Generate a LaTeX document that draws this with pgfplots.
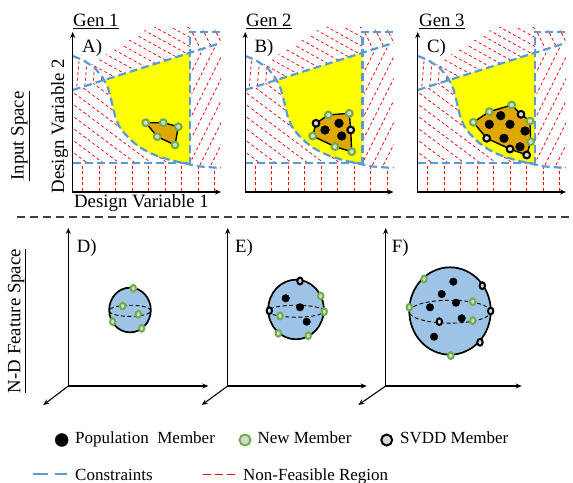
\documentclass[border=0pt]{standalone}
\usepackage{pgfplots}
\pgfplotsset{compat=1.18}
\usetikzlibrary{arrows.meta}
\usepackage{fontspec}
\setmainfont{Liberation Serif}
\definecolor{cblue}{RGB}{91,155,213}
\definecolor{cyel}{RGB}{255,255,0}
\definecolor{cgold}{RGB}{223,168,0}
\definecolor{cgreen}{RGB}{112,173,71}
\definecolor{csph}{RGB}{157,195,230}
\definecolor{cfill}{RGB}{215,215,215}
\pgfplotsset{
 base/.style={at={(0,0)},anchor=south west,scale only axis,width=573bp,height=483bp,
   xmin=0,xmax=573,ymin=0,ymax=483,y dir=reverse,hide axis,clip=false},
 constr/.style={color=cblue,line width=2.2pt,dash pattern=on 8pt off 4pt,no markers},
 hatch/.style={color=red,line width=0.75pt,dash pattern=on 3pt off 2.6pt,no markers,unbounded coords=jump},
 ax/.style={black,line width=1.1pt,no markers},
 pop/.style={only marks,mark=*,mark size=4.4,mark options={fill=black,draw=black}},
 newm/.style={only marks,mark=*,mark size=3.4,mark options={fill=cfill,draw=cgreen,line width=2pt}},
 svdd/.style={only marks,mark=*,mark size=3.4,mark options={fill=cfill,draw=black,line width=2pt}},
 popl/.style={only marks,mark=*,mark size=3.8,mark options={fill=black,draw=black}},
 newl/.style={only marks,mark=*,mark size=3.4,mark options={fill=cfill,draw=cgreen,line width=2pt,xscale=0.8}},
 svddl/.style={only marks,mark=*,mark size=3.4,mark options={fill=cfill,draw=black,line width=2pt,xscale=0.8}},
}
\newcommand{\panelbg}{%
 \addplot[fill=cyel,draw=none] coordinates {(104,80) (190,52.75) (190,164.5) (183,163) (172,160.5) (160,157) (150,153) (141,148) (133,142) (125,134) (119,126) (115,116) (111.5,101) (108,88)} -- cycle;
 % top region
 \begin{scope}
 \clip (150,27) -- (190,27) -- (190,52.75) -- (104,80) -- (95,68) -- (91,64) -- cycle;
 \addplot[hatch] coordinates {(80,-32) (200,34) (nan,nan) (80,-23) (200,43) (nan,nan) (80,-14) (200,52) (nan,nan)
   (80,-5) (200,61) (nan,nan) (80,4) (200,70) (nan,nan) (80,13) (200,79) (nan,nan) (80,22) (200,88) (nan,nan)
   (80,31) (200,97) (nan,nan) (80,40) (200,106) (nan,nan) (80,49) (200,115) (nan,nan) (80,58) (200,124) (nan,nan) (80,67) (200,133)};
 \end{scope}
 % small left wedge
 \begin{scope}
 \clip (72.7,56) -- (83,60) -- (95,68) -- (103,78) -- (104,80) -- (72.7,90) -- cycle;
 \addplot[hatch] coordinates {(80,50) (76,95) (nan,nan) (88,50) (84,95) (nan,nan) (96,50) (92,95) (nan,nan) (104,50) (100,95)};
 \end{scope}
 % left region
 \begin{scope}
 \clip (72.7,90) -- (104,80) -- (108,88) -- (111.5,101) -- (115,116) -- (119,126) -- (125,134) -- (133,142) -- (141,148) -- (150,153) -- (160,157) -- (172,160.5) -- (183,162) -- (72.7,162) -- cycle;
 \addplot[hatch] coordinates {(70,54) (190,144) (nan,nan) (70,66) (190,156) (nan,nan) (70,78) (190,168) (nan,nan)
   (70,90) (190,180) (nan,nan) (70,102) (190,192) (nan,nan) (70,114) (190,204) (nan,nan) (70,126) (190,216) (nan,nan)
   (70,138) (190,228) (nan,nan) (70,150) (190,240) (nan,nan) (70,162) (190,252)};
 \end{scope}
 % bottom strip
 \begin{scope}
 \clip (72.7,164.5) -- (183,164.5) -- (190,165.5) -- (200,167.5) -- (221,169) -- (221,192) -- (72.7,192) -- cycle;
 \addplot[hatch] coordinates {(82.7,160) (82.7,192) (nan,nan) (99.2,160) (99.2,192) (nan,nan) (115.7,160) (115.7,192) (nan,nan)
   (132.2,160) (132.2,192) (nan,nan) (148.7,160) (148.7,192) (nan,nan) (165.2,160) (165.2,192) (nan,nan)
   (181.7,160) (181.7,192) (nan,nan) (198.2,160) (198.2,192) (nan,nan) (214.7,160) (214.7,192)};
 \end{scope}
 % right region
 \begin{scope}
 \clip (191.5,52.3) -- (221,42.9) -- (221,168) -- (200,166.5) -- (191.5,164.5) -- cycle;
 \addplot[hatch] coordinates {(116.5,200) (201.5,30) (nan,nan) (127.5,200) (212.5,30) (nan,nan) (138.5,200) (223.5,30) (nan,nan)
   (149.5,200) (234.5,30) (nan,nan) (160.5,200) (245.5,30) (nan,nan) (171.5,200) (256.5,30) (nan,nan)
   (182.5,200) (267.5,30) (nan,nan) (193.5,200) (278.5,30) (nan,nan) (204.5,200) (289.5,30)};
 \end{scope}
 % top right box
 \begin{scope}
 \clip (191.5,30) -- (221,30) -- (221,42.9) -- (191.5,52.3) -- cycle;
 \addplot[hatch] coordinates {(178,28) (193,58) (nan,nan) (190,28) (205,58) (nan,nan) (202,28) (217,58) (nan,nan) (214,28) (229,58)};
 \end{scope}
 % constraints
 \addplot[constr] coordinates {(72.7,90) (221,42.9)};
 \addplot[constr] coordinates {(72.7,163.3) (190,163.3)};
 \addplot[constr] coordinates {(190,165) (190,31.7) (221,31.7)};
 \addplot[constr] coordinates {(72.7,56) (83,60) (95,68) (103,78) (108,88) (111.5,101) (115,116) (119,126) (125,134) (133,142) (141,148) (150,153) (160,157) (172,160.5) (183,163) (190,164.5) (200,166.5) (221,168)};
 % axes
 \addplot[ax,<->] coordinates {(72.7,32) (72.7,192) (221,192)};
}
\begin{document}
\begin{tikzpicture}[>={Stealth[length=6pt,width=5pt]},font=\fontsize{18.8bp}{21bp}\selectfont,every node/.style={inner sep=0pt}]
\begin{axis}[base]
\panelbg
\end{axis}
\begin{axis}[base,xmin=-172.5,xmax=400.5]
\panelbg
\end{axis}
\begin{axis}[base,xmin=-345,xmax=228]
\panelbg
\end{axis}
\begin{axis}[base]
% separator
\addplot[color=black!75,line width=1.2pt,dash pattern=on 8pt off 5pt,no markers] coordinates {(17,217) (573,217)};
% SVDD polygons
\addplot[fill=cgold,draw=black,line width=1.4pt] coordinates {(145.7,122.7) (163.3,122.7) (178.3,126.7) (175,145) (157.3,136.7)} -- cycle;
\addplot[fill=cgold,draw=black,line width=1.4pt] coordinates {(316,123.3) (328.3,115) (349.3,113.3) (350.7,130) (351.7,151.7) (335,146.7) (312.7,136)} -- cycle;
\addplot[fill=cgold,draw=black,line width=1.4pt] coordinates {(473.3,122.3) (489.3,111.7) (511.7,105) (521,114.3) (530,121) (530.7,141.7) (526.7,155) (510,149) (486.7,138.3)} -- cycle;
% members, input space
\addplot[newm] coordinates {(145.7,122.7) (163.3,122.7) (178.3,126.7) (157.3,136.7) (175,145)};
\addplot[pop] coordinates {(339,123.3) (325,130) (341.7,136)};
\addplot[newm] coordinates {(328.3,115) (349.3,113.3) (312.7,136) (335,146.7) (351.7,151.7)};
\addplot[svdd] coordinates {(316,123.3) (350.7,130)};
\addplot[pop] coordinates {(500.7,115.7) (510,124.3) (489.3,124.3) (525,131) (504,138.3) (520,146.7)};
\addplot[newm] coordinates {(511.7,105) (489.3,111.7) (473.3,122.3) (530,121) (530.7,141.7)};
\addplot[svdd] coordinates {(521,114.3) (486.7,138.3) (510,149) (526.7,155)};
% feature space axes
\addplot[ax,->] coordinates {(68.3,386) (68.3,228)};
\addplot[ax,->] coordinates {(68.3,386) (208.3,386)};
\addplot[ax,->] coordinates {(68.3,386) (43.3,405)};
\addplot[ax,->] coordinates {(227.7,386) (227.7,228)};
\addplot[ax,->] coordinates {(227.7,386) (366.7,386)};
\addplot[ax,->] coordinates {(227.7,386) (201.7,405)};
\addplot[ax,->] coordinates {(385.7,386) (385.7,228)};
\addplot[ax,->] coordinates {(385.7,386) (521.7,386)};
\addplot[ax,->] coordinates {(385.7,386) (358.3,405)};
% spheres
\addplot[only marks,mark=*,mark size=20.9,mark options={fill=csph,draw=black,line width=1.7pt,yscale=1.074}] coordinates {(130,310)};
\addplot[only marks,mark=*,mark size=27.9,mark options={fill=csph,draw=black,line width=1.7pt,yscale=1.073}] coordinates {(296,309.5)};
\addplot[only marks,mark=*,mark size=40.9,mark options={fill=csph,draw=black,line width=1.7pt,yscale=1.072}] coordinates {(450,311)};
\addplot[only marks,mark=o,mark size=21,mark options={draw=black,line width=0.9pt,dash pattern=on 4pt off 2.5pt,yscale=0.267}] coordinates {(130,310.8)};
\addplot[only marks,mark=o,mark size=28,mark options={draw=black,line width=0.9pt,dash pattern=on 4pt off 2.5pt,yscale=0.216}] coordinates {(296,311.2)};
\addplot[only marks,mark=o,mark size=41,mark options={draw=black,line width=0.9pt,dash pattern=on 4pt off 2.5pt,yscale=0.28}] coordinates {(450,311.7)};
% members, feature space
\addplot[newl] coordinates {(133.3,288.3) (122.7,306) (138.3,314.3) (112.7,321.7) (141.7,328.3)};
\addplot[popl] coordinates {(285.7,298.3) (300,307.3) (306.7,321.7)};
\addplot[newl] coordinates {(320.7,296) (324.3,311.7) (280,316) (278.3,333.3) (308.3,335.7)};
\addplot[svddl] coordinates {(300,281) (269.3,310.7)};
\addplot[popl] coordinates {(453.3,281.7) (441.7,294) (456,302.7) (430,307.3) (461.7,318.3) (434,336.7)};
\addplot[newl] coordinates {(424,279) (409.3,307.3) (472.7,301.7) (472.7,320.7) (450.7,355.7)};
\addplot[svddl] coordinates {(482.3,285.7) (490.7,311) (439.3,321.7) (480,342.3)};
% legend
\addplot[only marks,mark=*,mark size=6.5,mark options={fill=black,draw=black}] coordinates {(61.7,440)};
\addplot[only marks,mark=*,mark size=5.5,mark options={fill=cfill,draw=cgreen,line width=2pt}] coordinates {(245,440)};
\addplot[only marks,mark=*,mark size=5.5,mark options={fill=cfill,draw=black,line width=2pt}] coordinates {(386.7,440)};
\addplot[color=cblue,line width=2pt,dash pattern=on 15pt off 6.7pt,no markers] coordinates {(33.3,474.3) (66.7,474.3)};
\addplot[color=red,line width=1pt,dash pattern=on 8pt off 4pt,no markers] coordinates {(203,474.3) (235,474.3)};
% texts
\node[anchor=base west] at (73,26.5) {\underline{Gen 1}};
\node[anchor=base west] at (246,26.5) {\underline{Gen 2}};
\node[anchor=base west] at (419,26.5) {\underline{Gen 3}};
\node[anchor=base west] at (82,52.5) {A)};
\node[anchor=base west] at (254.5,52.5) {B)};
\node[anchor=base west] at (427,52.5) {C)};
\node[rotate=90,anchor=base] at (64,126) {Design Variable 2};
\node[anchor=base] at (141.5,207) {Design Variable 1};
\node[rotate=90,anchor=base] at (23.5,136) {\underline{Input Space}};
\node[rotate=90,anchor=base] at (20.3,321) {\underline{N-D Feature Space}};
\node[anchor=base west] at (76.7,252.5) {D)};
\node[anchor=base west] at (235,252.5) {E)};
\node[anchor=base west] at (391.7,252.5) {F)};
\node[anchor=base west,font=\fontsize{17bp}{19bp}\selectfont] at (75,443.3) {Population\ \ Member};
\node[anchor=base west,font=\fontsize{17bp}{19bp}\selectfont] at (257.3,443.3) {New Member};
\node[anchor=base west,font=\fontsize{17bp}{19bp}\selectfont] at (400,443.3) {SVDD Member};
\node[anchor=base west,font=\fontsize{17bp}{19bp}\selectfont] at (75,480.5) {Constraints};
\node[anchor=base west,font=\fontsize{17bp}{19bp}\selectfont] at (243,480.5) {Non-Feasible Region};
\end{axis}
\pgfresetboundingbox
\useasboundingbox (0,0) rectangle (573bp,483bp);
\end{tikzpicture}
\end{document}
